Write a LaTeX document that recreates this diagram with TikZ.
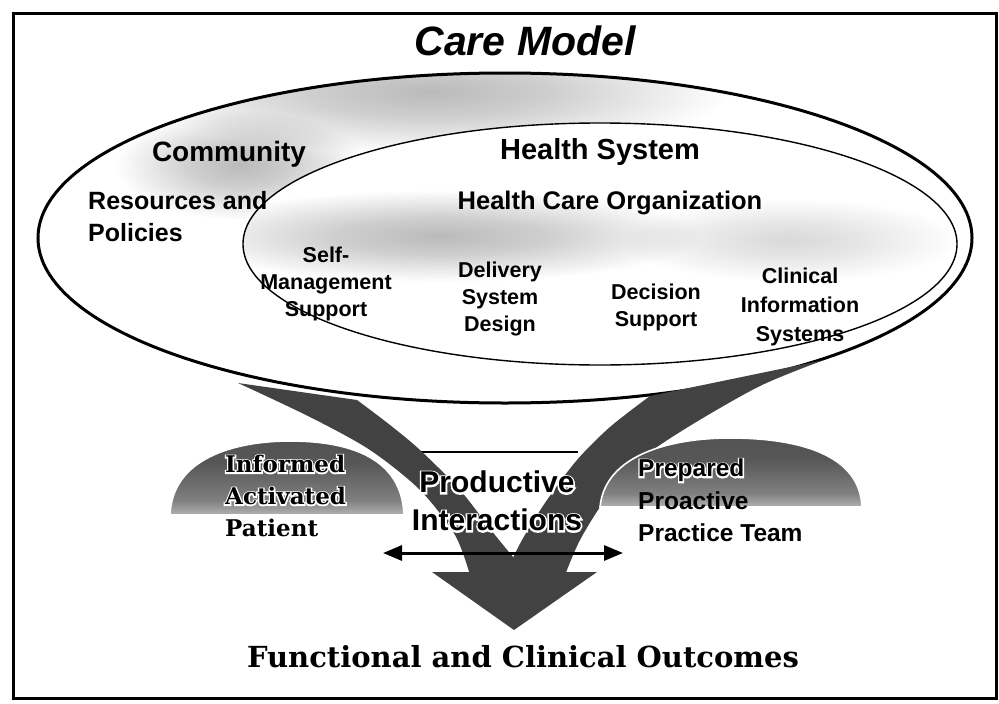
\documentclass[tikz,border=0pt]{standalone}
\usepackage{fontspec}
\setmainfont{Liberation Sans}
\newfontfamily\slab{DejaVu Serif}
% emboldened faces, set in white under a word to give it an outline
\newfontfamily\halosans{Liberation Sans Bold}[FakeBold=11]
\newfontfamily\haloslab{DejaVu Serif Bold}[FakeBold=12]
\usetikzlibrary{arrows.meta}

% soft grey clouds inside the two rings
\pgfdeclareradialshading{haze}{\pgfpoint{0bp}{0bp}}{color(0bp)=(black!27); color(10bp)=(black!19); color(25bp)=(white); color(50bp)=(white)}
\pgfdeclareradialshading{lighthaze}{\pgfpoint{0bp}{0bp}}{color(0bp)=(black!15); color(10bp)=(black!10); color(25bp)=(white); color(50bp)=(white)}
% domes: dark on top, fading out towards the base
\pgfdeclareverticalshading{domefade}{100bp}{color(0bp)=(white); color(10bp)=(white); color(35bp)=(black!50); color(60bp)=(black!66); color(100bp)=(black!70)}

% word with a white outline: #1 is the emboldened face
\newcommand\halo[2]{\leavevmode\rlap{\textcolor{white}{#1#2}}#2}

\tikzset{
  frameline/.style={line width=3pt},
  outerring/.style={line width=3pt},
  innerring/.style={line width=1.4pt},
  swoosh/.style={fill=black!74},
  dome/.style={shading=domefade, draw=white, line width=1.6pt},
  txt/.style={inner sep=0pt, align=center},
  element/.style={txt, anchor=north, font=\fontsize{21.5}{27}\selectfont\bfseries},
  twoway/.style={line width=3pt, {Triangle[length=19pt,width=15pt]}-{Triangle[length=19pt,width=15pt]}},
}

\begin{document}
\begin{tikzpicture}[x=1pt,y=-1pt]
\useasboundingbox (0,0) rectangle (999,704);
\fill[white] (0,0) rectangle (999,704);

% outer frame
\draw[frameline] (13,13) rectangle (996,698);

% grey cloud in the community ring
\begin{scope}[blend mode=multiply]
  \clip (505,238) ellipse [x radius=467, y radius=165];
  \shade[shading=haze] (430,92) ellipse [x radius=300, y radius=62];
  \shade[shading=haze] (240,165) ellipse [x radius=125, y radius=55];
\end{scope}
\fill[white] (600,244) ellipse [x radius=357, y radius=121];
% grey band across the health care organization
\begin{scope}[blend mode=multiply]
  \clip (600,244) ellipse [x radius=357, y radius=121];
  \shade[shading=haze] (440,236) ellipse [x radius=265, y radius=46];
  \shade[shading=lighthaze] (790,240) ellipse [x radius=170, y radius=42];
\end{scope}

% the two rings
\draw[outerring] (505,238) ellipse [x radius=467, y radius=165];
\draw[innerring] (600,244) ellipse [x radius=357, y radius=121];

% line across the interaction zone
\coordinate (zl) at (420,452);
\coordinate (zr) at (578,452);
\draw[line width=1.6pt] (zl) -- (zr);

% left swoosh
\fill[swoosh] plot[smooth] coordinates {(238,383) (310,417) (370,450) (420,490) (455,535) (470,575)}
  -- plot[smooth] coordinates {(528,575) (495,535) (460,490) (420,450) (390,425) (357,400)} -- cycle;
% right swoosh
\fill[swoosh] plot[smooth] coordinates {(824,360) (760,386) (688,427) (640,460) (605,500) (580,540) (565,575)}
  -- plot[smooth] coordinates {(505,575) (522,540) (547,500) (577,460) (610,427) (650,396)} -- cycle;
% joint arrowhead
\fill[swoosh] (432,572) -- (597,572) -- (514,630) -- cycle;

% patient and team domes
\shade[dome] (170,515) .. controls (172,458) and (235,441) .. (290,441)
  .. controls (350,441) and (402,458) .. (404,515) -- cycle;
\shade[dome] (600,507) .. controls (605,455) and (670,438) .. (730,438)
  .. controls (800,438) and (860,455) .. (862,507) -- cycle;

% titles
\node[txt, font=\fontsize{41}{41}\selectfont\bfseries\itshape] (title) at (525,41) {Care Model};
\node[txt, font=\fontsize{28}{28}\selectfont\bfseries] (community) at (229,154) {Community};
\node[txt, align=left, anchor=north west, font=\fontsize{25}{32}\selectfont\bfseries] (resources) at (88,191) {Resources and\\Policies};
\node[txt, font=\fontsize{29}{29}\selectfont\bfseries] (healthsys) at (600,152) {Health System};
\node[txt, font=\fontsize{25.5}{25.5}\selectfont\bfseries] (hco) at (610,203) {Health Care Organization};

% the four elements
\node[element] (selfmgmt) at (326,247) {Self-\\Management\\Support};
\node[element] (delivery) at (500,262) {Delivery\\System\\Design};
\node[element] (decision) at (656,284) {Decision\\Support};
\node[element, font=\fontsize{21.5}{29}\selectfont\bfseries] (clinical) at (800,268) {Clinical\\Information\\Systems};

% interaction zone
\node[txt, anchor=north, font=\fontsize{30}{38}\selectfont\bfseries] (productive) at (497,471) {\halo\halosans{Productive}\\\halo\halosans{Interactions}};
\node[txt, align=left, anchor=north west, font=\fontsize{23}{32}\selectfont\slab\bfseries] (patient) at (225,455) {\halo\haloslab{Informed}\\\halo\haloslab{Activated}\\Patient};
\node[txt, align=left, anchor=north west, font=\fontsize{24.5}{32.5}\selectfont\bfseries] (team) at (638,459) {\halo\halosans{Prepared}\\Proactive\\Practice Team};

\coordinate (il) at (383,553);
\coordinate (ir) at (623,553);
\draw[twoway] (il) -- (ir);

% outcomes
\node[txt, font=\fontsize{29}{29}\selectfont\slab\bfseries] (outcomes) at (523,657) {Functional and Clinical Outcomes};
\end{tikzpicture}
\end{document}
